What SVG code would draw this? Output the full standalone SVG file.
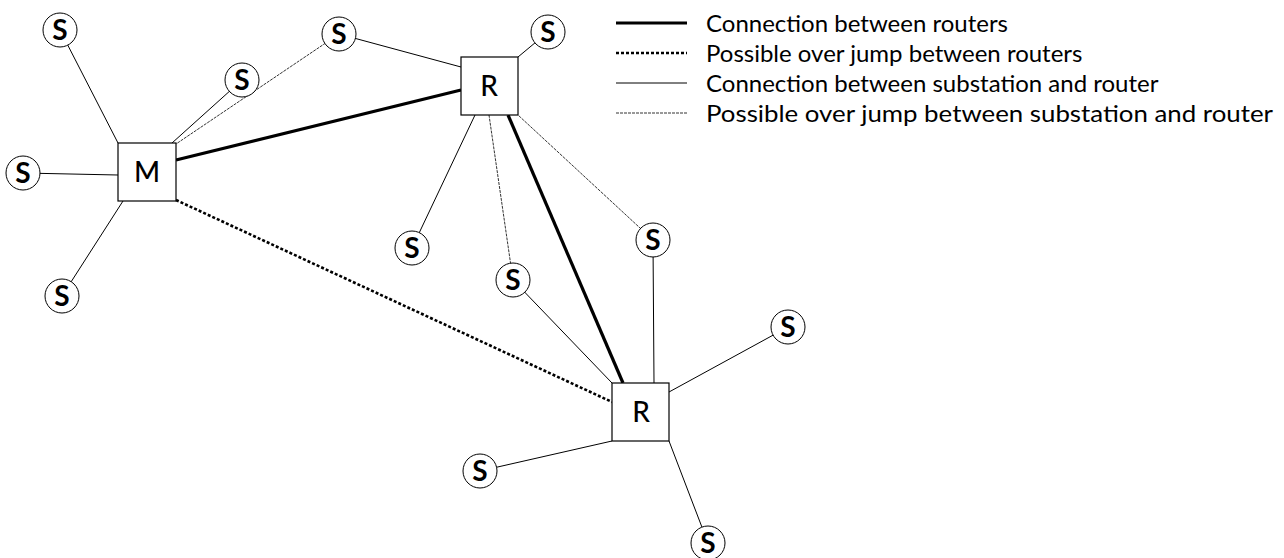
<svg xmlns="http://www.w3.org/2000/svg" width="1284" height="558" viewBox="0 0 1284 558">
<style>
.thin{stroke:#000;stroke-width:1;fill:none}
.dash{stroke:#333;stroke-width:1;stroke-dasharray:3 1;fill:none}
.thick{stroke:#000;stroke-width:3.2;fill:none}
.dot{stroke:#000;stroke-width:2.6;stroke-dasharray:3 2;fill:none}
.s circle{fill:#fff;stroke:#000;stroke-width:1}
.s text{font-family:Lato,"Noto Sans",sans-serif;font-size:28px;font-weight:700;text-anchor:middle}
.box rect{fill:#fff;stroke:#000;stroke-width:1.2}
.box text{font-family:Lato,"Noto Sans",sans-serif;font-size:28px;font-weight:500;text-anchor:middle}
.leg{font-family:Lato,"Noto Sans",sans-serif;font-size:24px}
</style>
<rect width="1284" height="558" fill="#fff"/>
<g id="connectors">
<line class="thin" x1="60" y1="30" x2="118" y2="143"/>
<line class="thin" x1="242" y1="80" x2="172" y2="143"/>
<line class="thin" x1="23" y1="173" x2="118" y2="175"/>
<line class="thin" x1="62" y1="296" x2="123" y2="201"/>
<line class="thin" x1="339" y1="34" x2="461" y2="67"/>
<line class="thin" x1="548" y1="32" x2="518" y2="57"/>
<line class="thin" x1="412" y1="248" x2="475" y2="115"/>
<line class="thin" x1="513" y1="280" x2="612" y2="383"/>
<line class="thin" x1="653" y1="240" x2="654" y2="383"/>
<line class="thin" x1="788" y1="327" x2="669" y2="392"/>
<line class="thin" x1="480" y1="471" x2="612" y2="441"/>
<line class="thin" x1="708" y1="543" x2="669" y2="441"/>
<line class="dash" x1="339" y1="34" x2="176" y2="144"/>
<line class="dash" x1="513" y1="280" x2="489" y2="115"/>
<line class="dash" x1="653" y1="240" x2="518" y2="115"/>
<line class="thick" x1="176" y1="160" x2="461" y2="90"/>
<line class="thick" x1="508" y1="115" x2="623" y2="383"/>
<line class="dot" x1="176" y1="200" x2="612" y2="402"/>
</g>
<g id="M" class="box"><rect x="118" y="143" width="58" height="58"/><text x="147" y="182">M</text></g>
<g id="R1" class="box"><rect x="461" y="57" width="57" height="58"/><text x="489" y="96">R</text></g>
<g id="R2" class="box"><rect x="612" y="383" width="57" height="58"/><text x="641" y="422">R</text></g>
<g id="S1" class="s"><circle cx="60" cy="30" r="17"/><text x="60" y="40">S</text></g>
<g id="S2" class="s"><circle cx="339" cy="34" r="17"/><text x="339" y="44">S</text></g>
<g id="S3" class="s"><circle cx="242" cy="80" r="17"/><text x="242" y="90">S</text></g>
<g id="S4" class="s"><circle cx="23" cy="173" r="17"/><text x="23" y="183">S</text></g>
<g id="S5" class="s"><circle cx="62" cy="296" r="17"/><text x="62" y="306">S</text></g>
<g id="S6" class="s"><circle cx="548" cy="32" r="17"/><text x="548" y="42">S</text></g>
<g id="S7" class="s"><circle cx="412" cy="248" r="17"/><text x="412" y="258">S</text></g>
<g id="S8" class="s"><circle cx="513" cy="280" r="17"/><text x="513" y="290">S</text></g>
<g id="S9" class="s"><circle cx="653" cy="240" r="17"/><text x="653" y="250">S</text></g>
<g id="S10" class="s"><circle cx="788" cy="327" r="17"/><text x="788" y="337">S</text></g>
<g id="S11" class="s"><circle cx="480" cy="471" r="17"/><text x="480" y="481">S</text></g>
<g id="S12" class="s"><circle cx="708" cy="543" r="17"/><text x="708" y="553">S</text></g>
<g id="legend">
<line class="thick" x1="616" y1="23" x2="687" y2="23"/>
<line class="dot" x1="616" y1="53" x2="687" y2="53"/>
<line class="thin" x1="616" y1="83" x2="687" y2="83"/>
<line class="dash" x1="616" y1="113" x2="687" y2="113"/>
<text class="leg" x="706" y="32">Connection between routers</text>
<text class="leg" x="706" y="62">Possible over jump between routers</text>
<text class="leg" x="706" y="92">Connection between substation and router</text>
<text class="leg" x="706" y="122" textLength="567" lengthAdjust="spacingAndGlyphs">Possible over jump between substation and router</text>
</g>
</svg>
